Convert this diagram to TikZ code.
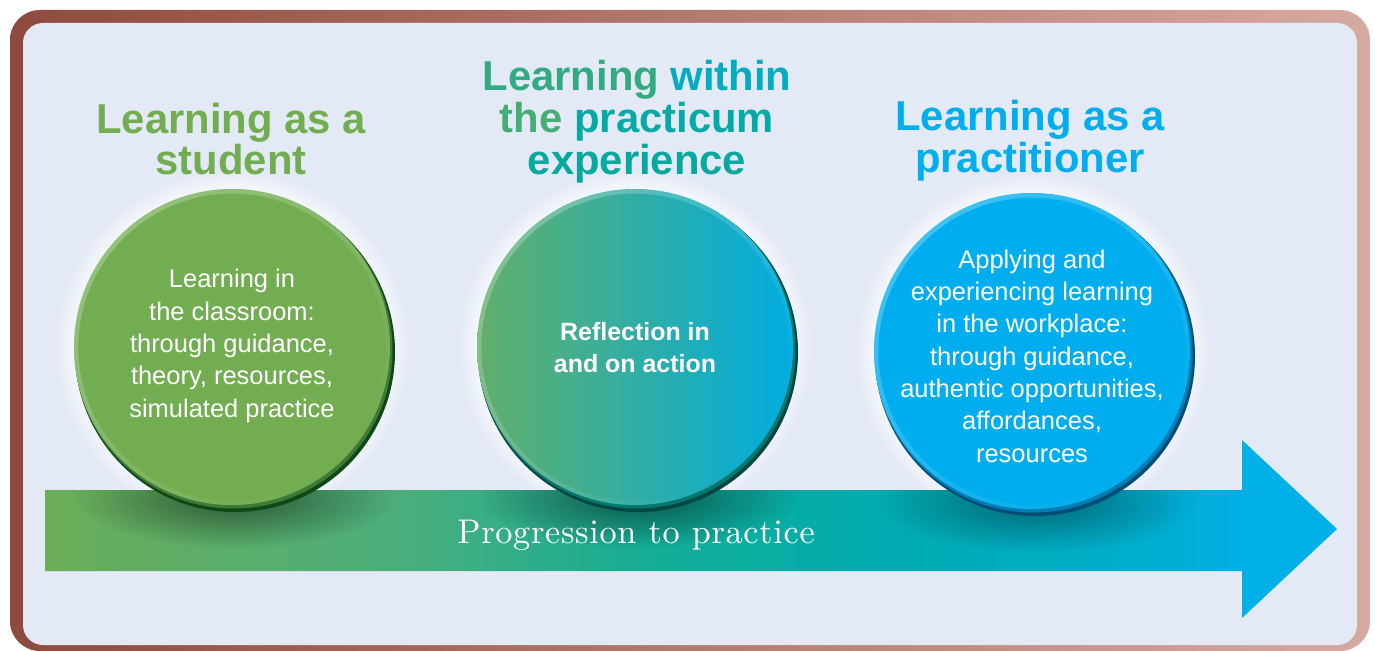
\documentclass[tikz,border=0pt]{standalone}
\usepackage{fontspec}
\setsansfont{Liberation Sans}
\newfontfamily\progfont{lmroman10-regular.otf}[LetterSpace=2]
\usetikzlibrary{fadings}

\definecolor{frameL}{RGB}{142,74,62}
\definecolor{frameR}{RGB}{214,170,160}
\definecolor{panel}{RGB}{227,234,246}
\definecolor{stuGreen}{RGB}{114,173,82}
\definecolor{stuDark}{RGB}{12,72,24}
\definecolor{midGreen}{RGB}{98,174,106}
\definecolor{midTeal}{RGB}{3,169,157}
\definecolor{midCyan}{RGB}{0,173,224}
\definecolor{midDark}{RGB}{4,70,66}
\definecolor{praBlue}{RGB}{0,174,239}
\definecolor{praDark}{RGB}{0,78,120}
\definecolor{arrA}{RGB}{106,173,88}
\definecolor{arrB}{RGB}{76,174,124}
\definecolor{arrC}{RGB}{20,173,150}
\definecolor{arrD}{RGB}{0,172,178}
\definecolor{arrDD}{RGB}{0,173,205}
\definecolor{arrE}{RGB}{0,176,230}

\pgfdeclarehorizontalshading{arrowshade}{100bp}{color(0bp)=(arrA); color(25bp)=(arrA); color(38.7bp)=(arrB); color(48.4bp)=(arrC); color(58.1bp)=(arrD); color(67.8bp)=(arrDD); color(71.3bp)=(arrE); color(100bp)=(arrE)}
\tikzfading[name=shadowfade, inner color=transparent!0, outer color=transparent!100]
\tikzfading[name=rimfade, top color=transparent!0, bottom color=transparent!100]

\begin{document}
\begin{tikzpicture}[x=0.02cm, y=-0.02cm,
    headtext/.style={font=\sffamily\bfseries\fontsize{23.8}{23.8}\selectfont, align=center, inner sep=0pt},
    bodytext/.style={font=\sffamily\fontsize{14.5}{18.4}\selectfont, text=white, align=center, inner sep=0pt},
    halo/.style={white, opacity=0.8, path fading=circle with fuzzy edge 15 percent},
    highlight/.style={white, opacity=0.25, line width=2.5pt, path fading=rimfade, fading angle=45}]
    \useasboundingbox (0,0) rectangle (1375,651);

    % Frame
    \shade[left color=frameL, right color=frameR, rounded corners=0.6cm] (10,10) rectangle (1370,651);
    \fill[panel, rounded corners=0.4cm] (23,23) rectangle (1357,645);

    % Halos
    \fill[halo] (232,347) circle [radius=178];
    \fill[halo] (635,347) circle [radius=178];
    \fill[halo] (1032,351) circle [radius=178];

    % Arrow
    \path[shading=arrowshade] (45,490) -- (1242,490) -- (1242,440) -- (1337,529)
        -- (1242,618) -- (1242,571) -- (45,571) -- cycle;

    % Shadows on the arrow
    \begin{scope}
        \clip (45,490) rectangle (1242,571);
        \fill[black, opacity=0.5, path fading=shadowfade] (236,498) ellipse [x radius=160, y radius=50];
        \fill[black, opacity=0.5, path fading=shadowfade] (639,498) ellipse [x radius=160, y radius=50];
        \fill[black, opacity=0.4, path fading=shadowfade] (1036,502) ellipse [x radius=160, y radius=50];
    \end{scope}

    % Circles
    \fill[stuDark] (235,352) circle [radius=160];
    \fill[stuDark!50!stuGreen] (233.5,349.5) circle [radius=159];
    \fill[stuGreen] (232,347) circle [radius=158];
    \draw[highlight] (232,347) circle [radius=156];

    \fill[midDark] (638,352) circle [radius=160];
    \fill[midDark!50!midTeal] (636.5,349.5) circle [radius=159];
    \shade[left color=midGreen, middle color=midTeal, right color=midCyan] (635,347) circle [radius=158];
    \draw[highlight] (635,347) circle [radius=156];

    \fill[praDark] (1035,356) circle [radius=160];
    \fill[praDark!50!praBlue] (1033.5,353.5) circle [radius=159];
    \fill[praBlue] (1032,351) circle [radius=158];
    \draw[highlight] (1032,351) circle [radius=156];

    % Titles
    \node[headtext, text=stuGreen] (stuTitle) at (231,139) {Learning as a\\student};
    \node[headtext] (midTitle) at (637,121.5) {\color[RGB]{50,171,130}Learning \color[RGB]{2,172,193}within\\
        \color[RGB]{71,173,119}the \color[RGB]{4,170,166}practicum\\
        \color[RGB]{6,169,157}experience};
    \node[headtext, text=praBlue] (praTitle) at (1030,141) {Learning as a\\practitioner};

    % Circle texts
    \node[bodytext] (stuBody) at (232,346) {Learning in\\the classroom:\\through guidance,\\theory, resources,\\simulated practice};
    \node[bodytext, font=\sffamily\bfseries\fontsize{14.2}{18.4}\selectfont] (midBody) at (635,347.5) {Reflection in\\and on action};
    \node[bodytext] (praBody) at (1032,356) {Applying and\\experiencing learning\\in the workplace:\\through guidance,\\authentic opportunities,\\affordances,\\resources};

    % Arrow label
    \node[font=\progfont\fontsize{19.5}{19.5}\selectfont, text=white, anchor=base, inner sep=0pt] (progLabel) at (636,543) {Progression to practice};
\end{tikzpicture}
\end{document}
